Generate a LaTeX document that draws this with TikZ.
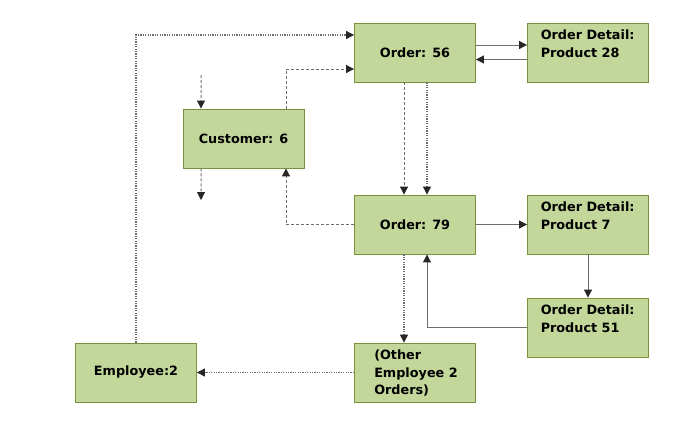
\documentclass[tikz,border=0pt]{standalone}
\usepackage{fontspec}
\setmainfont{DejaVu Sans}
\usetikzlibrary{arrows.meta}
\definecolor{boxfill}{HTML}{C4D79B}
\definecolor{boxline}{HTML}{77933C}
\definecolor{linkgray}{HTML}{6E6E6E}
\definecolor{tipgray}{HTML}{262626}
\begin{document}
\begin{tikzpicture}[x=1bp, y=-1bp,
  box/.style={draw=boxline, fill=boxfill, line width=0.9bp, minimum width=121bp, minimum height=59bp, inner sep=0pt, font=\fontsize{12.8bp}{17.5bp}\selectfont\bfseries},
  boxtext/.style={anchor=north west, inner sep=0pt, align=left, font=\fontsize{12.8bp}{17.5bp}\selectfont\bfseries},
  link/.style={draw=linkgray, line width=1bp, -{Triangle[length=8bp, width=8bp, color=tipgray]}},
  dashlink/.style={link, dash pattern=on 3bp off 2bp},
  dotlink/.style={link, line width=1.1bp, dash pattern=on 1.2bp off 1.2bp}]
\useasboundingbox (0,0) rectangle (686,427);
% Orders
\node[box] (o56) at (415, 52.5) {Order: 56};
\node[box] (o79) at (415, 224.5) {Order: 79};
\node[box] (other) at (415, 372.5) {};
\node[boxtext] (othertxt) at ([shift={(20bp,-7.5bp)}]other.north west) {(Other\\Employee 2\\Orders)};
% Order details
\node[box] (d28) at (588, 52.5) {};
\node[boxtext] (d28txt) at ([shift={(13.5bp,-7.5bp)}]d28.north west) {Order Detail:\\Product 28};
\node[box] (d7) at (588, 224.5) {};
\node[boxtext] (d7txt) at ([shift={(13.5bp,-7.5bp)}]d7.north west) {Order Detail:\\Product 7};
\node[box] (d51) at (588, 327.5) {};
\node[boxtext] (d51txt) at ([shift={(13.5bp,-7.5bp)}]d51.north west) {Order Detail:\\Product 51};
% Customer and employee
\node[box] (cust) at (243.5, 138.5) {Customer: 6};
\node[box] (emp) at (136, 372.5) {Employee:2};
\coordinate (custin) at (201, 75);
\coordinate (custout) at (201, 200);
% Order 56 and its detail
\draw[link] ([yshift=7.5bp]o56.east) -- ([yshift=7.5bp]d28.west);
\draw[link] ([yshift=-7bp]d28.west) -- ([yshift=-7bp]o56.east);
% Order 79 and its details
\draw[link] (o79.east) -- (d7.west);
\draw[link] (d7.south) -- (d51.north);
\draw[link] (d51.west) -| ([xshift=12bp]o79.south);
% Links between orders
\draw[dashlink] ([xshift=-11bp]o56.south) -- ([xshift=-11bp]o79.north);
\draw[dotlink] ([xshift=12bp]o56.south) -- ([xshift=12bp]o79.north);
\draw[dotlink] ([xshift=-11bp]o79.south) -- ([xshift=-11bp]other.north);
% Customer links
\draw[dashlink] (custin) -- ([xshift=-42.5bp]cust.north);
\draw[dashlink] ([xshift=-42.5bp]cust.south) -- (custout);
\draw[dashlink] ([xshift=42.5bp]cust.north) |- ([yshift=-16.5bp]o56.west);
\draw[dashlink] (o79.west) -| ([xshift=42.5bp]cust.south);
% Employee links
\draw[dotlink] (emp.north) |- ([yshift=17.5bp]o56.west);
\draw[dotlink] (other.west) -- (emp.east);
\end{tikzpicture}
\end{document}
